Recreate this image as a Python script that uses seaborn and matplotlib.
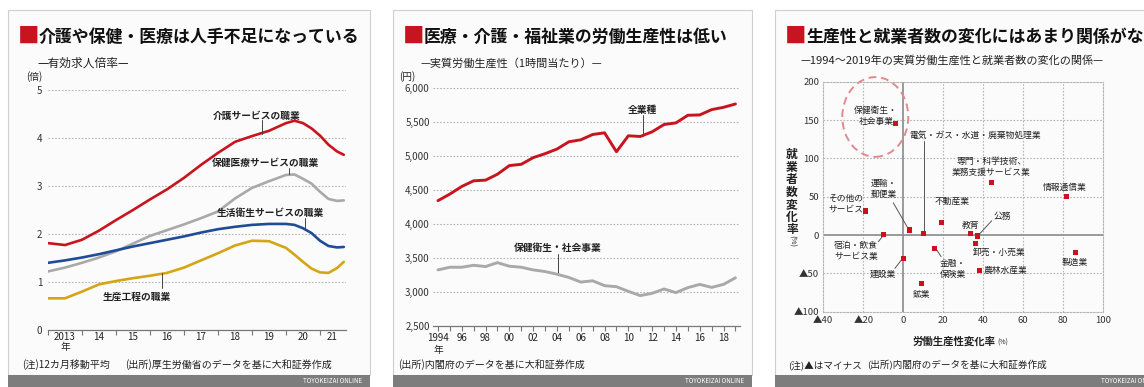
import pandas as pd
import seaborn as sns
import matplotlib.pyplot as plt
from matplotlib.patches import Rectangle, Ellipse

sns.set_theme(style='white')
plt.rcParams['font.family'] = ['Noto Sans CJK JP', 'DejaVu Sans']
plt.rcParams['axes.unicode_minus'] = False

W, H = 1144, 387

# --- panel 1: 有効求人倍率 (12カ月移動平均) ---
p1_time = [2013.0, 2013.5, 2014.0, 2014.5, 2015.0, 2015.5, 2016.0, 2016.5, 2017.0, 2017.5,
           2018.0, 2018.5, 2019.0, 2019.5, 2020.0, 2020.25, 2020.5, 2020.75, 2021.0,
           2021.25, 2021.5, 2021.7]
kaigo = [1.81, 1.77, 1.88, 2.07, 2.29, 2.50, 2.72, 2.93, 3.17, 3.44, 3.69, 3.92, 4.04,
         4.15, 4.31, 4.36, 4.31, 4.20, 4.05, 3.86, 3.72, 3.65]
hoken_iryo = [1.22, 1.30, 1.40, 1.51, 1.64, 1.80, 1.96, 2.08, 2.20, 2.33, 2.47, 2.74,
              2.96, 3.10, 3.23, 3.24, 3.15, 3.05, 2.88, 2.73, 2.69, 2.70]
seikatsu_eisei = [1.40, 1.45, 1.51, 1.58, 1.66, 1.74, 1.81, 1.88, 1.95, 2.03, 2.10, 2.15,
                  2.19, 2.21, 2.21, 2.19, 2.12, 2.02, 1.86, 1.75, 1.72, 1.73]
seisan_kotei = [0.66, 0.66, 0.80, 0.95, 1.02, 1.08, 1.13, 1.19, 1.30, 1.45, 1.60, 1.76,
                1.86, 1.85, 1.71, 1.57, 1.42, 1.28, 1.20, 1.19, 1.29, 1.42]
p1_names = ['介護サービスの職業', '保健医療サービスの職業', '生活衛生サービスの職業', '生産工程の職業']

# --- panel 2: 実質労働生産性 (1時間当たり, 円) ---
p2_years = list(range(1994, 2020))
zengyoshu = [4343, 4440, 4552, 4635, 4645, 4732, 4859, 4878, 4976, 5034, 5102, 5209, 5238,
             5316, 5341, 5063, 5297, 5287, 5356, 5463, 5487, 5599, 5604, 5682, 5716, 5765]
hoken_eisei = [3325, 3364, 3364, 3393, 3374, 3432, 3379, 3364, 3325, 3301, 3262, 3214, 3146,
               3165, 3093, 3078, 3010, 2947, 2981, 3044, 2991, 3064, 3112, 3068, 3112, 3209]

# --- panel 3: 1994~2019年の変化率 (%) ---
sectors = ['保健衛生・社会事業', '専門・科学技術、業務支援サービス業', '情報通信業', 'その他のサービス',
           '運輸・郵便業', '電気・ガス・水道・廃棄物処理業', '不動産業', '宿泊・飲食サービス業', '建設業',
           '金融・保険業', '鉱業', '教育', '公務', '卸売・小売業', '農林水産業', '製造業']
prod_change = [-3.7, 44.2, 81.7, -18.8, 3.2, 10.2, 19.3, -9.7, 0.2, 15.8, 9.2, 33.8, 37.0,
               36.3, 38.0, 86.2]
emp_change = [145.6, 68.2, 50.0, 31.3, 6.5, 2.2, 16.5, 0.9, -30.9, -17.4, -63.0, 2.2, -1.3,
              -10.9, -46.5, -23.0]

RED = '#c8141e'
TXT = '#222222'


def box(px, py, pw, ph):
    return [px / W, 1 - (py + ph) / H, pw / W, ph / H]


def ftext(px, py, s, **kw):
    kw.setdefault('color', TXT)
    kw.setdefault('va', 'center')
    return fig.text(px / W, 1 - py / H, s, **kw)


fig = plt.figure(figsize=(W / 100, H / 100), dpi=100, facecolor='white')

# panel frames and footers (behind the axes)
for x0, x1 in [(8, 370), (393, 752), (775, 1180)]:
    fig.patches.append(Rectangle((x0 / W, 1 - 375 / H), (x1 - x0) / W, 365 / H,
                                 transform=fig.transFigure, facecolor='#fbfbfb',
                                 edgecolor='#cfcfcf', lw=0.8, zorder=-5))
    fig.patches.append(Rectangle((x0 / W, 1 - 387 / H), (x1 - x0) / W, 12 / H,
                                 transform=fig.transFigure, facecolor='#7d7d7d',
                                 edgecolor='none', zorder=-5))
    ftext(min(x1 - 8, 1160), 381, 'TOYOKEIZAI ONLINE', fontsize=4.5, color='white', ha='right')

titles = [(20, '介護や保健・医療は人手不足になっている'),
          (405, '医療・介護・福祉業の労働生産性は低い'),
          (787, '生産性と就業者数の変化にはあまり関係がない')]
for x0, t in titles:
    ftext(x0 - 2, 37, '■', fontsize=15.5, color=RED)
    ftext(x0 + 19, 37, t, fontsize=12.2, fontweight='bold', color='#111111')

ftext(37, 63, '—有効求人倍率—', fontsize=8.5)
ftext(420, 63, '—実質労働生産性（1時間当たり）—', fontsize=8)
ftext(800, 60, '—1994～2019年の実質労働生産性と就業者数の変化の関係—', fontsize=8)
ftext(22, 365, '(注)12カ月移動平均', fontsize=7.2)
ftext(125, 365, '(出所)厚生労働省のデータを基に大和証券作成', fontsize=7.2)
ftext(398, 365, '(出所)内閣府のデータを基に大和証券作成', fontsize=7.2)
ftext(788, 365, '(注)▲はマイナス', fontsize=6.9)
ftext(867, 365, '(出所)内閣府のデータを基に大和証券作成', fontsize=6.9)
ftext(34, 77, '(倍)', fontsize=7, ha='center')
ftext(407, 77, '(円)', fontsize=7, ha='center')

grid_kw = dict(color='#b5b5b5', lw=0.8, ls=(0, (1.5, 1.5)))

# ---------------- panel 1 ----------------
ax1 = fig.add_axes(box(48, 90, 297.5, 240))
df1 = pd.DataFrame({'t': p1_time, p1_names[0]: kaigo, p1_names[1]: hoken_iryo,
                    p1_names[2]: seikatsu_eisei, p1_names[3]: seisan_kotei})
df1 = df1.melt(id_vars='t', var_name='series', value_name='v')
pal1 = dict(zip(p1_names, [RED, '#a9a9a9', '#1f4b99', '#d4a514']))
sns.lineplot(data=df1, x='t', y='v', hue='series', palette=pal1, legend=False,
             lw=1.9, ax=ax1, zorder=3)
ax1.set_xlim(2013.0, 2021.75)
ax1.set_ylim(0, 5)
ax1.set_facecolor('none')
for v in [1, 2, 3, 4, 5]:
    ax1.axhline(v, **grid_kw, zorder=1)
ax1.set_yticks([0, 1, 2, 3, 4, 5])
ax1.set_yticklabels(['0', '1', '2', '3', '4', '5'])
ax1.set_xticks(range(2013, 2022))
ax1.set_xticklabels([])
ax1.set_xticks([2013.5, 2014.5, 2015.5, 2016.5, 2017.5, 2018.5, 2019.5, 2020.5, 2021.35],
               minor=True)
ax1.set_xticklabels(['2013\n年', '14', '15', '16', '17', '18', '19', '20', '21'], minor=True,
                    linespacing=0.95, va='top')
ax1.tick_params(axis='x', which='major', length=3.5, width=0.8, color='#777777',
                direction='out', bottom=True)
ax1.tick_params(axis='x', which='minor', length=0, pad=1.5, labelsize=7, colors=TXT,
                bottom=True)
ax1.tick_params(axis='y', length=0, pad=4, labelsize=7, colors='#333333')
ax1.set_xlabel('')
ax1.set_ylabel('')
for s in ['top', 'right', 'left']:
    ax1.spines[s].set_visible(False)
ax1.spines['bottom'].set_color('#777777')
ax1.spines['bottom'].set_linewidth(0.9)

lab1 = [(p1_names[0], 2019.15, 4.47, 2019.3, 4.38, 4.08),
        (p1_names[1], 2019.4, 3.48, 2020.09, 3.38, 3.25),
        (p1_names[2], 2019.55, 2.43, 2020.56, 2.33, 2.1),
        (p1_names[3], 2015.6, 0.7, 2016.35, 0.87, 1.18)]
for name, tx, ty, lx, ly0, ly1 in lab1:
    ax1.text(tx, ty, name, fontsize=7, ha='center', va='center', color=TXT,
             fontweight='bold', zorder=5)
    ax1.plot([lx, lx], [ly0, ly1], color='#444444', lw=0.7, zorder=4)

# ---------------- panel 2 ----------------
ax2 = fig.add_axes(box(433.2, 88, 307, 238))
df2 = pd.DataFrame({'year': p2_years, '全業種': zengyoshu, '保健衛生・社会事業': hoken_eisei})
df2 = df2.melt(id_vars='year', var_name='series', value_name='yen')
sns.lineplot(data=df2, x='year', y='yen', hue='series',
             palette={'全業種': RED, '保健衛生・社会事業': '#a9a9a9'}, legend=False,
             lw=2.1, ax=ax2, zorder=3)
ax2.set_xlim(1993.6, 2019.4)
ax2.set_ylim(2500, 6000)
ax2.set_facecolor('none')
for v in range(3000, 6001, 500):
    ax2.axhline(v, **grid_kw, zorder=1)
ax2.set_yticks(range(2500, 6001, 500))
ax2.set_yticklabels([f'{v:,}' for v in range(2500, 6001, 500)])
ax2.set_xticks(p2_years)
ax2.set_xticklabels(['1994\n年' if y == 1994 else (f'{y % 100:02d}' if y % 2 == 0 else '')
                     for y in p2_years], linespacing=1.25, va='top')
ax2.tick_params(axis='x', length=3.5, width=0.8, color='#777777', direction='out',
                pad=1.5, labelsize=7, labelcolor=TXT, bottom=True)
ax2.tick_params(axis='y', length=0, pad=2.5, labelsize=7, colors='#333333')
ax2.set_xlabel('')
ax2.set_ylabel('')
for s in ['top', 'right', 'left']:
    ax2.spines[s].set_visible(False)
ax2.spines['bottom'].set_color('#777777')
ax2.spines['bottom'].set_linewidth(0.9)

ax2.text(2011.2, 5677, '全業種', fontsize=7, ha='center', va='center', color=TXT,
         fontweight='bold')
ax2.plot([2011.25, 2011.25], [5600, 5300], color='#444444', lw=0.7)
ax2.text(2004.05, 3647, '保健衛生・社会事業', fontsize=7, ha='center', va='center', color=TXT,
         fontweight='bold')
ax2.plot([2004.1, 2004.1], [3565, 3262], color='#444444', lw=0.7)

# ---------------- panel 3 ----------------
ax3 = fig.add_axes(box(823.3, 81.7, 280, 230))
sns.scatterplot(x=prod_change, y=emp_change, marker='s', s=14, color='#cc1020',
                edgecolor='none', linewidth=0, ax=ax3, zorder=5)
ax3.set_xlim(-40, 100)
ax3.set_ylim(-100, 200)
ax3.set_facecolor('none')
for v in [-20, 20, 40, 60, 80]:
    ax3.axvline(v, **grid_kw, zorder=1)
for v in [-50, 50, 100, 150]:
    ax3.axhline(v, **grid_kw, zorder=1)
for s in ax3.spines.values():
    s.set_color('#b5b5b5')
    s.set_linewidth(0.8)
    s.set_linestyle((0, (1.5, 1.5)))
ax3.axvline(0, color='#8a8a8a', lw=1.2, zorder=2)
ax3.axhline(0, color='#8a8a8a', lw=1.2, zorder=2)
ax3.set_xticks(range(-40, 101, 20))
ax3.set_xticklabels([('▲' + str(-v)) if v < 0 else str(v) for v in range(-40, 101, 20)])
ax3.set_yticks(range(-100, 201, 50))
ax3.set_yticklabels([('▲' + str(-v)) if v < 0 else str(v) for v in range(-100, 201, 50)])
ax3.tick_params(length=0, labelsize=6.8, colors='#333333', pad=3)
ax3.set_xlabel('')
ax3.set_ylabel('')

ax3.add_patch(Ellipse((-14, 154), 33, 104, fill=False, ls=(0, (4, 2.5)), lw=1.4,
                      edgecolor='#e08a90', clip_on=False, zorder=4))

lab3 = [('保健衛生・\n社会事業', -13.6, 155, 'center', None),
        ('電気・ガス・水道・廃棄物処理業', 36, 130.4, 'center', ((10.2, 123), (10.2, 4))),
        ('専門・科学技術、\n業務支援サービス業', 44.1, 88.7, 'center', None),
        ('情報通信業', 80.4, 61.7, 'center', None),
        ('運輸・\n郵便業', -9.6, 60, 'center', ((-5, 42), (2.3, 9))),
        ('その他の\nサービス', -28.7, 40.4, 'center', None),
        ('不動産業', 24.5, 44, 'center', None),
        ('教育', 33.8, 13, 'center', None),
        ('公務', 49.6, 23.9, 'center', ((44.2, 18.6), (37.8, 0.5))),
        ('卸売・小売業', 48, -23, 'center', None),
        ('農林水産業', 40.3, -46.5, 'left', None),
        ('製造業', 85.5, -36, 'center', None),
        ('宿泊・飲食\nサービス業', -23.7, -21, 'center', ((-12.5, -8.7), (-10, -0.5))),
        ('建設業', -10.4, -50.8, 'center', ((-4.2, -43.5), (-0.5, -31))),
        ('金融・\n保険業', 25, -44, 'center', ((18.9, -28.2), (16.5, -18.5))),
        ('鉱業', 9.2, -77.3, 'center', None)]
for s, tx, ty, ha, leader in lab3:
    ax3.text(tx, ty, s, fontsize=6.3, ha=ha, va='center', color=TXT, linespacing=1.25,
             zorder=6)
    if leader:
        (x0, y0), (x1, y1) = leader
        ax3.plot([x0, x1], [y0, y1], color='#555555', lw=0.7, zorder=4)

ftext(792, 192, '\n'.join('就業者数変化率'), fontsize=8.5, ha='center', linespacing=0.95,
      fontweight='bold')
ftext(792, 241, '(%)', fontsize=5.5, ha='center', rotation=270)
ftext(996, 342, '労働生産性変化率', fontsize=7.5, ha='right', fontweight='bold')
ftext(997, 343, '(%)', fontsize=5, ha='left')

fig.savefig('out.png', dpi=100, facecolor='white')
